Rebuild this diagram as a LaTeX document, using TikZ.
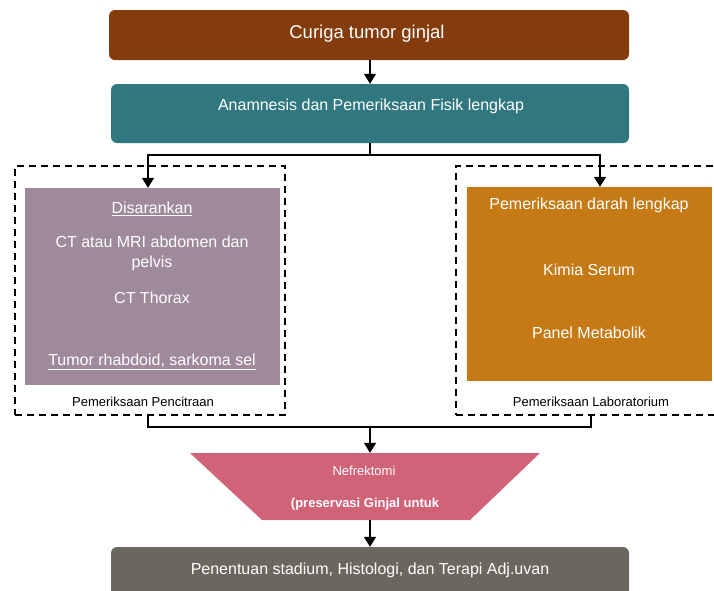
\documentclass[tikz,border=0pt]{standalone}
\usepackage{fontspec}
\setmainfont{Liberation Sans}
\usetikzlibrary{arrows.meta}
\definecolor{cbrown}{RGB}{132,60,12}
\definecolor{cteal}{RGB}{49,119,127}
\definecolor{cpurple}{RGB}{158,138,155}
\definecolor{corange}{RGB}{197,122,22}
\definecolor{cpink}{RGB}{209,99,121}
\definecolor{cgray}{RGB}{106,103,94}
\begin{document}
\begin{tikzpicture}[x=1pt,y=-1pt,
  box/.style={rounded corners=6pt, inner sep=0pt, draw=none},
  panel/.style={inner sep=0pt, draw=none},
  dashbox/.style={draw=black, line width=1.4pt, dash pattern=on 7pt off 5pt, inner sep=0pt},
  wtxt/.style={text=white, inner sep=0pt, font=\fontsize{16}{19}\selectfont},
  btxt/.style={text=black, inner sep=0pt, font=\fontsize{13}{15}\selectfont},
  stxt/.style={text=white, inner sep=0pt, font=\fontsize{13}{15}\selectfont},
  conn/.style={draw=black, line width=1.4pt},
  arr/.style={conn, -{Triangle[width=12pt,length=10pt]}}]
\useasboundingbox (0,0) rectangle (714,590);
\clip (0,0) rectangle (714,590);

% top boxes
\node[box, fill=cbrown, minimum width=520, minimum height=50] (curiga) at (369,35) {};
\node[wtxt, font=\fontsize{18.5}{22}\selectfont] (curigat) at (367,34) {Curiga tumor ginjal};
\node[box, fill=cteal, minimum width=518, minimum height=59] (anam) at (370,113.5) {};
\node[wtxt] (anamt) at (371,106) {Anamnesis dan Pemeriksaan Fisik lengkap};

% dashed groups
\node[dashbox, minimum width=270, minimum height=249] (dl) at (150,290.5) {};
\node[dashbox, minimum width=274, minimum height=249] (dr) at (593,290.5) {};

% purple panel
\node[panel, fill=cpurple, minimum width=255, minimum height=197] (cit) at (152.5,286.5) {};
\node[wtxt] (cit1) at (152,209) {\underline{Disarankan}};
\node[wtxt] (cit2) at (152,242) {CT atau MRI abdomen dan};
\node[wtxt] (cit3) at (152,263) {pelvis};
\node[wtxt] (cit4) at (152,298) {CT Thorax};
\node[wtxt] (cit5) at (152,362) {\underline{Tumor rhabdoid, sarkoma sel}};
\node[btxt] (citl) at (143,402) {Pemeriksaan Pencitraan};

% orange panel
\node[panel, fill=corange, minimum width=245, minimum height=194] (lab) at (589.5,284) {};
\node[wtxt] (lab1) at (589,205) {Pemeriksaan darah lengkap};
\node[wtxt] (lab2) at (589,270) {Kimia Serum};
\node[wtxt] (lab3) at (589,333) {Panel Metabolik};
\node[btxt] (labl) at (591,402) {Pemeriksaan Laboratorium};

% trapezoid
\fill[cpink] (190,453) -- (540,453) -- (470,520) -- (262,520) -- cycle;
\node[inner sep=0pt, minimum width=350, minimum height=67] (nef) at (365,486.5) {};
\node[stxt] (nef1) at (364,471) {Nefrektomi};
\node[stxt, font=\fontsize{13}{15}\selectfont\bfseries] (nef2) at (365,504) {(preservasi Ginjal untuk};

% bottom box
\node[box, fill=cgray, minimum width=518, minimum height=66] (fin) at (370,580) {};
\node[wtxt] (fint) at (370,570) {Penentuan stadium, Histologi, dan Terapi Adj.uvan};

% connectors
\coordinate (split) at (370,155);
\coordinate (join) at (370,427);
\draw[arr] (curiga.south -| split) -- (anam.north -| split);
\draw[conn] (anam.south -| split) -- (split);
\draw[arr] (split) -| ([xshift=-4.5pt]cit.north);
\draw[arr] (split) -| ([xshift=10.5pt]lab.north);
\draw[conn] ([xshift=-2pt]dl.south) |- (join);
\draw[conn] ([xshift=-2pt]dr.south) |- (join);
\draw[arr] (join) -- (nef.north -| join);
\draw[arr] (nef.south -| join) -- (fin.north -| join);
\end{tikzpicture}
\end{document}
